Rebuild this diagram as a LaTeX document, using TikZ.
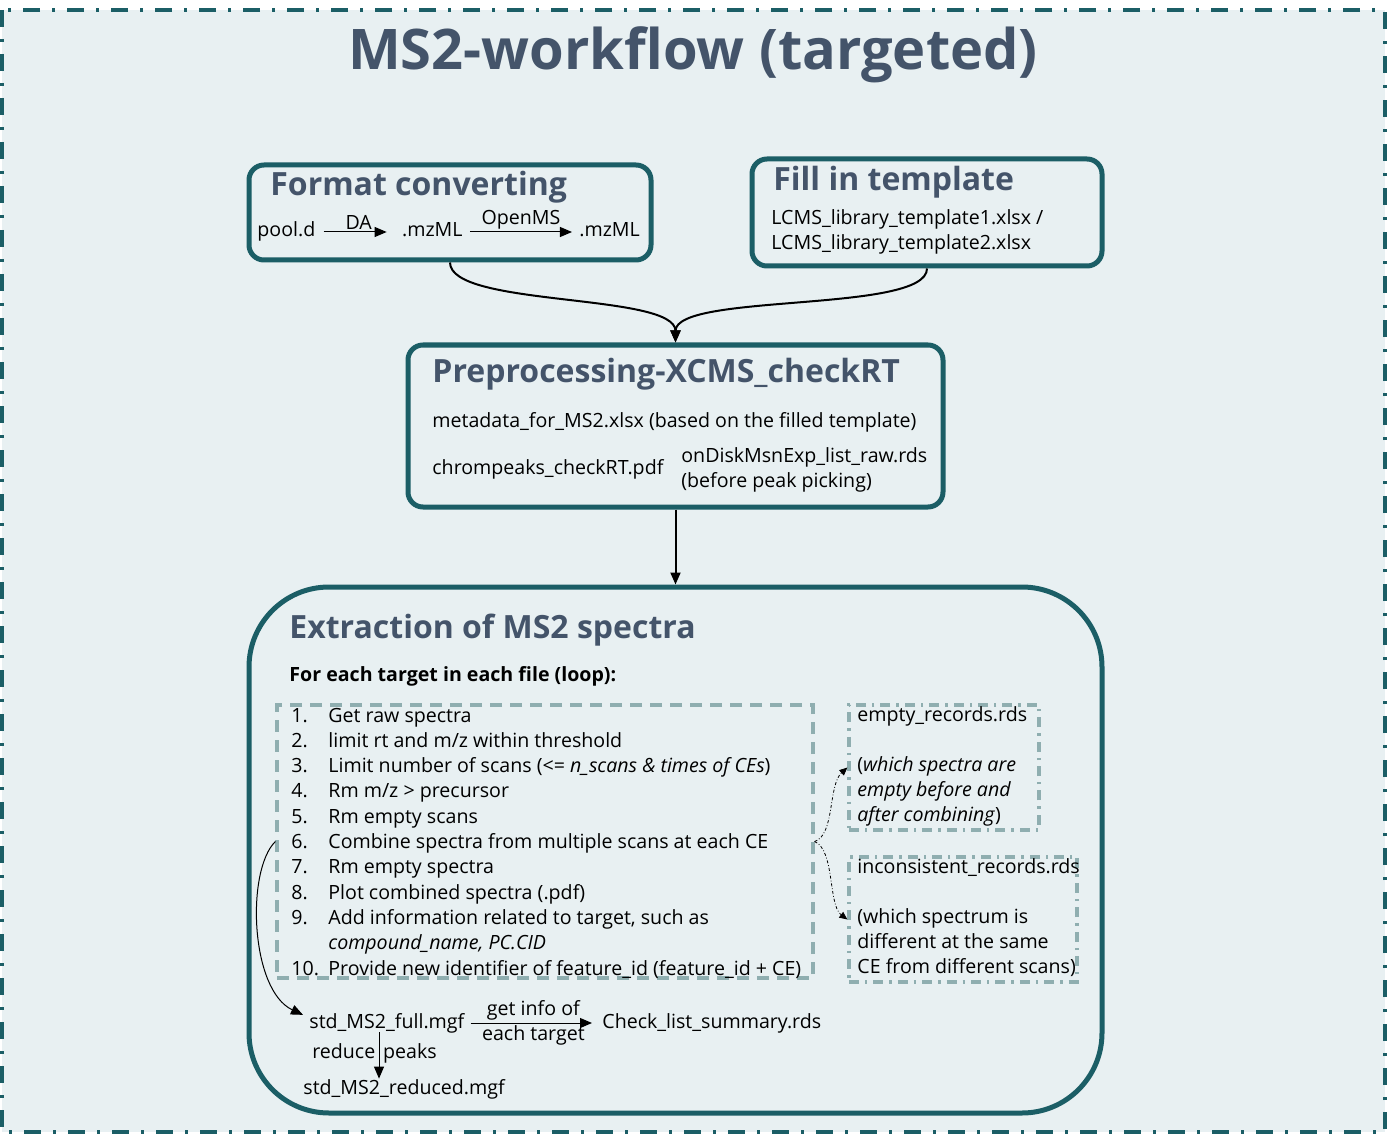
\documentclass[tikz,border=0pt]{standalone}
\usepackage{fontspec}
\setmainfont{Open Sans}
\usetikzlibrary{positioning,arrows.meta,calc}
\definecolor{frm}{HTML}{1B5E66}
\definecolor{bgc}{HTML}{E8F0F2}
\definecolor{ttl}{HTML}{44546A}
\definecolor{dsh}{HTML}{8FAEB0}
\tikzset{
  >={Triangle[length=6pt,width=5pt]},
  stage/.style={draw=frm, line width=2.5pt, rounded corners=7.5pt, inner sep=0pt},
  hd/.style={anchor=base west, inner sep=0pt, text=ttl, font=\fontsize{16}{19}\selectfont\bfseries},
  txt/.style={anchor=base west, inner sep=0pt, font=\fontsize{9.8}{12.6}\selectfont},
  lbl/.style={inner sep=1pt, font=\fontsize{9.8}{12}\selectfont},
  l/.style={->, line width=1pt},
  thinl/.style={->, line width=0.5pt},
  dotl/.style={-{Triangle[length=4pt,width=3.5pt]}, line width=0.4pt, dash pattern=on 1.5pt off 1pt on .4pt off 1pt},
  lstbox/.style={draw=dsh, line width=1.6pt, dash pattern=on 6pt off 4pt, inner sep=0pt},
  recbox/.style={draw=dsh, line width=1.6pt, dash pattern=on 5pt off 3pt on 1.2pt off 3pt, inner sep=0pt},
}
\begin{document}
\begin{tikzpicture}[x=0.5pt, y=-0.5pt]
  \useasboundingbox (0,0) rectangle (1387,1134);
  % frame and title
  \draw[draw=frm, fill=bgc, line width=2pt, dash pattern=on 8.5pt off 6pt on 1.5pt off 6pt] (2,10) rectangle (1385,1132);
  \node[anchor=base, inner sep=0pt, text=ttl, font=\fontsize{28}{32}\selectfont\bfseries] (title) at (693,70) {MS2-workflow (targeted)};

  % stage boxes
  \node[stage, minimum width=201pt, minimum height=47.5pt] (fc) at (450,212.5) {};
  \node[stage, minimum width=175pt, minimum height=53.5pt] (tpl) at (927,212.5) {};
  \node[stage, minimum width=267.5pt, minimum height=81pt] (pre) at (675.5,426) {};
  \node[stage, rounded corners=40pt, minimum width=426.5pt, minimum height=263pt] (ext) at (675.5,850) {};
  \node[lstbox, minimum width=268pt, minimum height=136.5pt] (lst) at (545,841.5) {};
  \node[recbox, minimum width=95pt, minimum height=62.5pt] (emp) at (944,767.5) {};
  \node[recbox, minimum width=114pt, minimum height=62.5pt] (inc) at (963,919.5) {};

  % format converting
  \node[hd] (fct) at (270,196) {Format converting};
  \node[txt] (pool) at (257,237) {pool.d};
  \node[txt, base right=43pt of pool] (mz1) {.mzML};
  \node[txt, base right=58pt of mz1] (mz2) {.mzML};
  \draw[thinl, shorten <=4pt, shorten >=7.5pt] ([yshift=2.5pt]pool.base east) -- node[lbl, above] {DA} ([yshift=2.5pt]mz1.base west);
  \draw[thinl, shorten <=3.5pt, shorten >=3.5pt] ([yshift=2.5pt]mz1.base east) -- node[lbl, above] {OpenMS} ([yshift=2.5pt]mz2.base west);

  % fill in template
  \node[hd] (tplt) at (773,191) {Fill in template};
  \node[txt] (tpl1) at (771,225) {LCMS\_library\_template1.xlsx /};
  \node[txt] (tpl2) at (771,250) {LCMS\_library\_template2.xlsx};

  % preprocessing
  \node[hd] (pret) at (432,382) {Preprocessing-XCMS\_checkRT};
  \node[txt] (meta) at (432,427) {metadata\_for\_MS2.xlsx (based on the filled template)};
  \node[txt] (chrom) at (432,474) {chrompeaks\_checkRT.pdf};
  \node[txt] (disk) at (681,462) {onDiskMsnExp\_list\_raw.rds};
  \node[txt] (befr) at (681,487) {(before peak picking)};

  % extraction
  \node[hd] (extt) at (289,638) {Extraction of MS2 spectra};
  \node[txt, font=\fontsize{9.8}{12.6}\selectfont\bfseries] (loop) at (289,681) {For each target in each file (loop):};
  \foreach \r/\n/\t in {0/1./{Get raw spectra}, 1/2./{limit rt and m/z within threshold},
      2/3./{Limit number of scans (<= \textit{n\_scans \& times of CEs})}, 3/4./{Rm m/z > precursor},
      4/5./{Rm empty scans}, 5/6./{Combine spectra from multiple scans at each CE},
      6/7./{Rm empty spectra}, 7/8./{Plot combined spectra (.pdf)},
      8/9./{Add information related to target, such as}, 9//{\textit{compound\_name, PC.CID}},
      10/10./{Provide new identifier of feature\_id (feature\_id + CE)}}{
    \node[txt] (n\r) at (291,722+\r*25.3) {\n};
    \node[txt] (s\r) at (328,722+\r*25.3) {\t};
  }

  % record files
  \node[txt] (e1) at (857,721) {empty\_records.rds};
  \node[txt] (e2) at (857,771) {(\textit{which spectra are}};
  \node[txt] (e3) at (857,796) {\textit{empty before and}};
  \node[txt] (e4) at (857,821) {\textit{after combining})};
  \node[txt] (i1) at (857,873) {inconsistent\_records.rds};
  \node[txt] (i2) at (857,923) {(which spectrum is};
  \node[txt] (i3) at (857,948) {different at the same};
  \node[txt] (i4) at (857,973) {CE from different scans)};

  % outputs
  \node[txt] (full) at (309,1028) {std\_MS2\_full.mgf};
  \node[txt] (chk) at (602,1028) {Check\_list\_summary.rds};
  \node[txt] (red) at (303,1094) {std\_MS2\_reduced.mgf};
  \coordinate (rp) at (379,1032);

  % connectors
  \draw[l] (fc.south) .. controls +(0,45) and +(0,-50) .. (pre.north);
  \draw[l] (tpl.south) .. controls +(0,45) and +(0,-50) .. (pre.north);
  \draw[l] (pre.south) -- (ext.north);
  \draw[thinl] (lst.west) .. controls (246,870) and (250,990) .. ([shift={(-3pt,4pt)}]full.west);
  \draw[dotl] (lst.east) .. controls (835,835) and (828,785) .. (emp.west);
  \draw[dotl] (lst.east) .. controls (835,850) and (828,905) .. (inc.west);
  \draw[thinl, shorten <=3pt, shorten >=5pt] ([yshift=2.5pt]full.base east) -- node[lbl, above] {get info of} node[lbl, below] {each target} ([yshift=2.5pt]chk.base west);
  \draw[thinl] (rp) -- node[lbl, pos=0.45, xshift=-2.25pt] {reduce\hspace{0.4em}peaks} (rp |- red.north);
\end{tikzpicture}
\end{document}
